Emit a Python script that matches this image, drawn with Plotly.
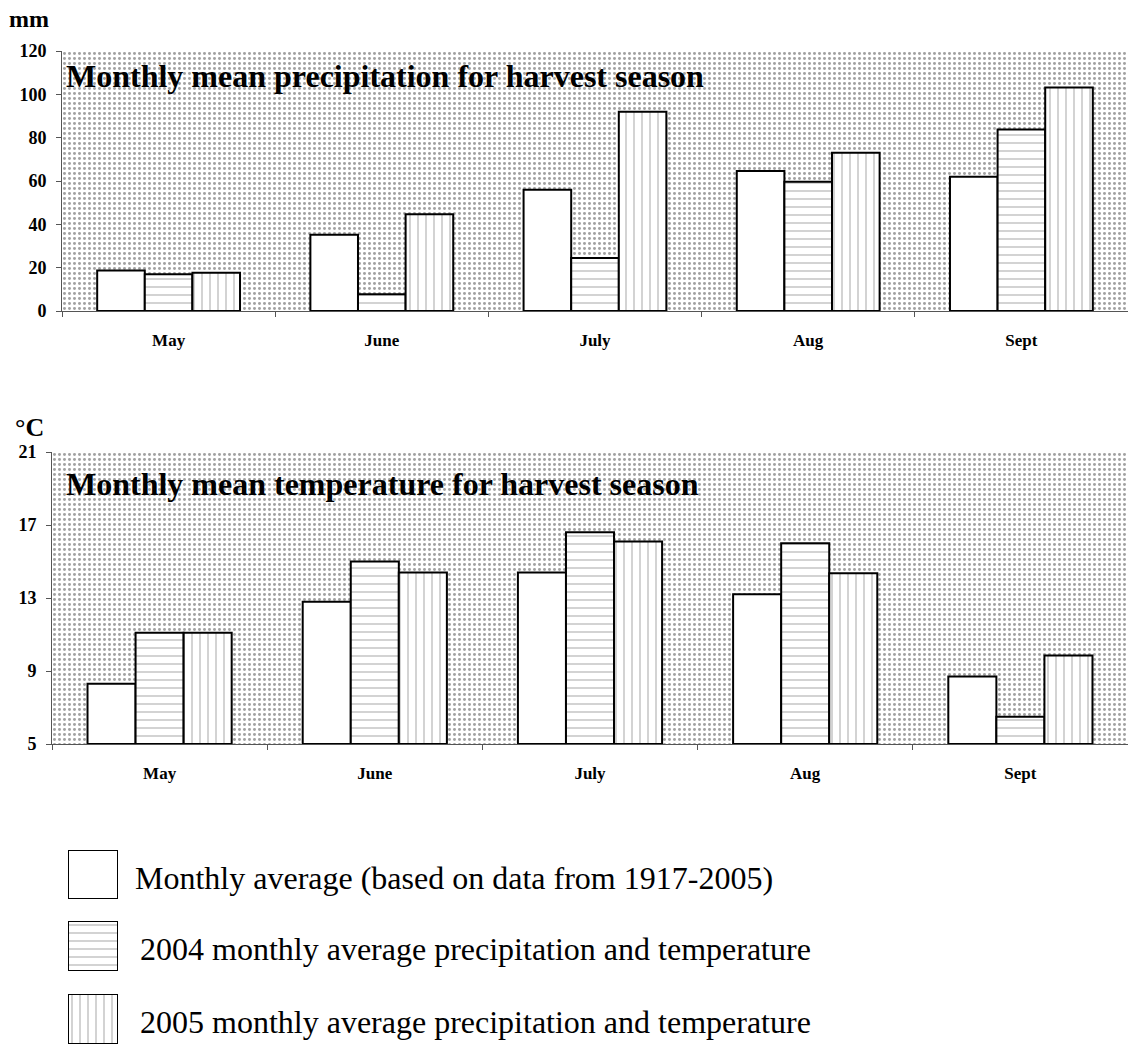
import plotly.graph_objects as go

W, H = 1128, 1046

months = ["May", "June", "July", "Aug", "Sept"]
precip_avg = [18.7, 35.2, 56.0, 64.6, 62.0]
precip_2004 = [17.0, 7.7, 24.5, 59.7, 83.8]
precip_2005 = [17.6, 44.6, 92.0, 73.0, 103.2]
temp_avg = [8.3, 12.8, 14.4, 13.2, 8.7]
temp_2004 = [11.1, 15.0, 16.6, 16.0, 6.5]
temp_2005 = [11.1, 14.4, 16.1, 14.35, 9.85]

precip_ticks = [0, 20, 40, 60, 80, 100, 120]
temp_ticks = [5, 9, 13, 17, 21]

legend_labels = [
    "Monthly average (based on data from 1917-2005)",
    "2004 monthly average precipitation and temperature",
    "2005 monthly average precipitation and temperature",
]

SERIF = "Liberation Serif"

def px_x(p):
    return p / W

def px_y(p):
    return 1 - p / H

styles = [
    None,
    dict(shape="-", fgcolor="#444", bgcolor="white", size=8, solidity=0.12, fillmode="overlay"),
    dict(shape="|", fgcolor="#444", bgcolor="white", size=8, solidity=0.12, fillmode="overlay"),
]

bg_pattern = dict(shape=".", fgcolor="#444", bgcolor="white", size=5, solidity=0.28, fillmode="overlay")

def marker(i):
    mk = dict(color="white", line=dict(color="black", width=2))
    if styles[i]:
        mk["pattern"] = styles[i]
    return mk

fig = go.Figure()

# background stipple for the two charts
for xa, ya, lo, hi in [("x", "y", precip_ticks[0], precip_ticks[-1]),
                       ("x3", "y2", temp_ticks[0], temp_ticks[-1])]:
    fig.add_trace(go.Bar(x=[0.5], y=[hi - lo], base=[lo], width=[1],
                         xaxis=xa, yaxis=ya, showlegend=False, hoverinfo="skip",
                         marker=dict(color="white", pattern=bg_pattern, line=dict(width=0))))

series_p = [precip_avg, precip_2004, precip_2005]
series_t = [temp_avg, temp_2004, temp_2005]
for i in range(3):
    fig.add_trace(go.Bar(x=months, y=series_p[i], xaxis="x2", yaxis="y", marker=marker(i),
                         name=legend_labels[i], showlegend=False, cliponaxis=False))
    fig.add_trace(go.Bar(x=months, y=[v - temp_ticks[0] for v in series_t[i]], base=temp_ticks[0],
                         xaxis="x4", yaxis="y2", marker=marker(i),
                         name=legend_labels[i], showlegend=False, cliponaxis=False))

# legend boxes in their own tiny subplots
box_px = [(850, 899), (921, 971), (994, 1044)]
for i in range(3):
    fig.add_trace(go.Bar(x=[0], y=[1], width=[1], xaxis=f"x{5+i}", yaxis=f"y{3+i}",
                         marker=marker(i), showlegend=False, hoverinfo="skip", cliponaxis=False))

ytickfont = dict(family=SERIF, size=18, color="black", weight="bold")
xtickfont = dict(family=SERIF, size=17, color="black", weight="bold")

common_y = dict(showgrid=False, zeroline=False, showline=True, linecolor="#555", linewidth=1,
                ticks="outside", ticklen=5, tickcolor="#555", tickfont=ytickfont,
                ticklabelstandoff=6, automargin=False)
common_x = dict(type="category", showgrid=False, showline=True, linecolor="#555", linewidth=1,
                ticks="outside", tickson="boundaries", ticklen=5, tickcolor="#555",
                tickfont=xtickfont, ticklabelstandoff=14, automargin=False)

layout = dict(
    width=W, height=H,
    margin=dict(l=0, r=0, t=0, b=0, autoexpand=False),
    paper_bgcolor="white", plot_bgcolor="white",
    barmode="group", bargap=0.33, bargroupgap=0,
    showlegend=False,
    xaxis=dict(domain=[px_x(62), 1], range=[0, 1], visible=False, anchor="y", automargin=False),
    yaxis=dict(domain=[px_y(311), px_y(51)], range=[precip_ticks[0], precip_ticks[-1]],
               tickvals=precip_ticks, anchor="x", **common_y),
    xaxis2=dict(domain=[px_x(62), 1], overlaying="x", anchor="y", **common_x),
    xaxis3=dict(domain=[px_x(52), 1], range=[0, 1], visible=False, anchor="y2", automargin=False),
    yaxis2=dict(domain=[px_y(744), px_y(452)], range=[temp_ticks[0], temp_ticks[-1]],
                tickvals=temp_ticks, anchor="x3", **common_y),
    xaxis4=dict(domain=[px_x(52), 1], overlaying="x3", anchor="y2", **common_x),
)

for i, (t, b) in enumerate(box_px):
    layout[f"xaxis{5+i}"] = dict(domain=[px_x(68), px_x(118)], range=[-0.5, 0.5], visible=False,
                                 anchor=f"y{3+i}", automargin=False)
    layout[f"yaxis{3+i}"] = dict(domain=[px_y(b), px_y(t)], range=[0, 1], visible=False,
                                 anchor=f"x{5+i}", automargin=False)

fig.update_layout(**layout)

annotations = [
    dict(text="<b>Monthly mean precipitation for harvest season</b>", x=px_x(64), y=px_y(76),
         xanchor="left", yanchor="middle", font=dict(family=SERIF, size=32, color="black")),
    dict(text="<b>Monthly mean temperature for harvest season</b>", x=px_x(64), y=px_y(484),
         xanchor="left", yanchor="middle", font=dict(family=SERIF, size=32, color="black")),
    dict(text="<b>mm</b>", x=px_x(7), y=px_y(19), xanchor="left", yanchor="middle",
         font=dict(family=SERIF, size=24, color="black")),
    dict(text="<b>°C</b>", x=px_x(13), y=px_y(428), xanchor="left", yanchor="middle",
         font=dict(family=SERIF, size=26, color="black")),
]
text_x = [133, 138, 138]
for i, (t, b) in enumerate(box_px):
    annotations.append(dict(text=legend_labels[i], x=px_x(text_x[i]), y=px_y((t + b) / 2 + 3),
                            xanchor="left", yanchor="middle",
                            font=dict(family=SERIF, size=32, color="black")))
for a in annotations:
    a.update(xref="paper", yref="paper", showarrow=False)
fig.update_layout(annotations=annotations)

fig.write_html("out.html")
